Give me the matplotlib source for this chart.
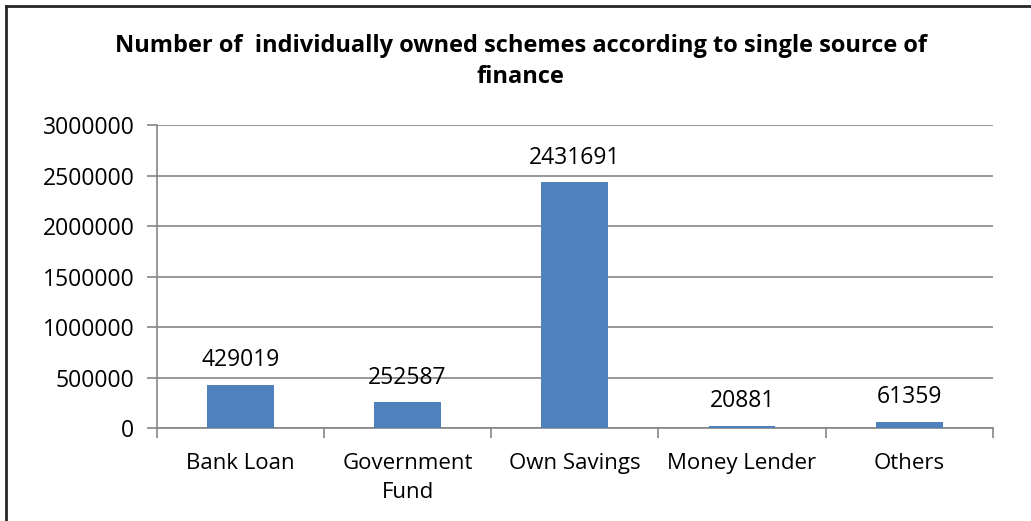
import matplotlib.pyplot as plt
import numpy as np
from matplotlib.lines import Line2D

categories = ["Bank Loan", "Government\nFund", "Own Savings", "Money Lender", "Others"]
schemes = [429019, 252587, 2431691, 20881, 61359]
y_ticks = [0, 500000, 1000000, 1500000, 2000000, 2500000, 3000000]

plt.rcParams['font.family'] = ['Open Sans', 'DejaVu Sans']

fig = plt.figure(figsize=(10.31, 5.21), dpi=100)
ax = fig.add_axes([0.152, 0.1785, 0.811, 0.5815])

x = np.arange(len(categories))
bars = ax.bar(x, schemes, width=0.4, color="#4F81BD", zorder=3)
for xi, v in zip(x, schemes):
    ax.annotate(str(v), (xi, v), xytext=(0, 9), textcoords="offset points",
                ha="center", va="bottom", fontsize=16.5, zorder=4)

ax.set_xlim(-0.5, len(categories) - 0.5)
ax.set_ylim(0, 3000000)
ax.set_yticks(y_ticks)
ax.set_yticklabels([str(t) for t in y_ticks], fontsize=16.5)
ax.yaxis.grid(True, color="#868686", linewidth=1.2, zorder=0)

ax.set_xticks(x)
ax.set_xticklabels(categories, fontsize=16, linespacing=1.47)
ax.tick_params(axis="x", length=0, pad=18)
ax.set_xticks(np.arange(-0.5, len(categories)), minor=True)
ax.tick_params(axis="x", which="minor", length=7, color="#868686", width=1.2)
ax.tick_params(axis="y", length=7, color="#868686", width=1.2, pad=9)

for side in ["top", "right"]:
    ax.spines[side].set_visible(False)
for side in ["left", "bottom"]:
    ax.spines[side].set_color("#868686")
    ax.spines[side].set_linewidth(1.2)

fig.text(0.505, 0.882, "Number of  individually owned schemes according to single source of\nfinance",
         ha="center", va="center", fontsize=17, fontweight="bold", linespacing=1.39)

# chart border
fig.add_artist(Line2D([6 / 1031, 6 / 1031], [0, 1 - 6 / 521], color="#262626", linewidth=2, transform=fig.transFigure))
fig.add_artist(Line2D([6 / 1031, 1], [1 - 6 / 521, 1 - 6 / 521], color="#262626", linewidth=2, transform=fig.transFigure))

fig.savefig("out.png", dpi=100)
